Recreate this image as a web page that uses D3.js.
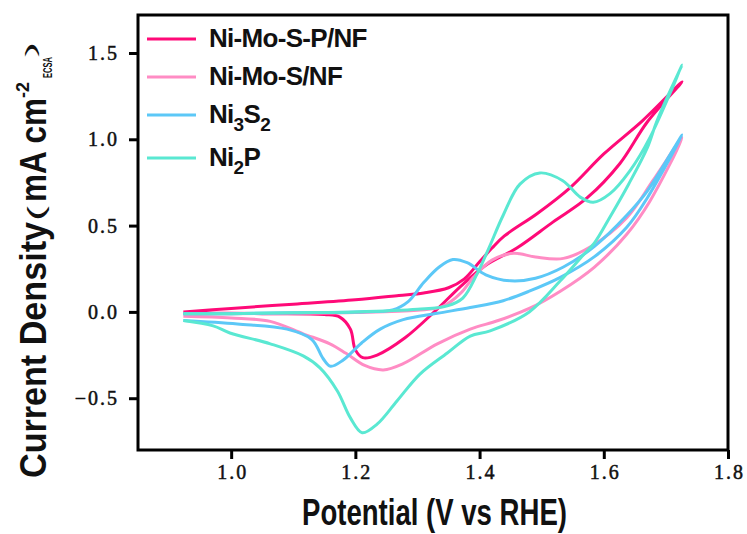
<!DOCTYPE html>
<html>
<head>
<meta charset="utf-8">
<script src="https://cdn.jsdelivr.net/npm/d3@7"></script>
<style>
  body { margin: 0; background: #fff; }
  .tick text { font-family: "Liberation Serif", "DejaVu Serif", serif; font-size: 20px; letter-spacing: 2px; fill: #111; stroke: #111; stroke-width: 0.5px; }
  .title { font-family: "Liberation Sans", Arial, sans-serif; font-weight: bold; fill: #111; }
</style>
</head>
<body>
<svg id="chart"></svg>
<script>
'use strict'

// series names, in legend order
const seriesNames = ['Ni-Mo-S-P/NF', 'Ni-Mo-S/NF', 'Ni3S2', 'Ni2P']

// each CV loop: forward scan to 1.726 V, then back to 0.923 V
const nmspPotential = [0.923, 1.0, 1.1, 1.2, 1.27, 1.31, 1.35, 1.375, 1.40, 1.42, 1.44, 1.493, 1.546, 1.60, 1.663, 1.726,
    1.67, 1.626, 1.573, 1.518, 1.46, 1.41, 1.37, 1.33, 1.28, 1.235, 1.212, 1.200, 1.192, 1.175, 1.15, 1.05, 0.923]
const nmspCurrent = [0.0, 0.02, 0.045, 0.07, 0.095, 0.11, 0.14, 0.19, 0.29, 0.37, 0.44, 0.57, 0.72, 0.915, 1.11, 1.333,
    1.10, 0.86, 0.66, 0.52, 0.37, 0.27, 0.15, 0.01, -0.15, -0.25, -0.265, -0.22, -0.10, -0.03, -0.015, -0.01, -0.005]

const nmsPotential = [0.923, 1.0, 1.1, 1.2, 1.3, 1.34, 1.37, 1.39, 1.42, 1.455, 1.49, 1.535, 1.58, 1.637, 1.679, 1.726,
    1.674, 1.637, 1.585, 1.53, 1.48, 1.43, 1.385, 1.332, 1.277, 1.245, 1.215, 1.185, 1.159, 1.116, 1.063, 1.0, 0.923]
const nmsCurrent = [-0.01, -0.01, -0.008, -0.003, 0.01, 0.03, 0.11, 0.2, 0.3, 0.34, 0.318, 0.31, 0.38, 0.545, 0.76, 1.008,
    0.64, 0.45, 0.26, 0.12, 0.02, -0.05, -0.10, -0.185, -0.30, -0.336, -0.31, -0.24, -0.185, -0.127, -0.055, -0.035, -0.025]

const ni3s2Potential = [0.923, 1.0, 1.1, 1.2, 1.26, 1.285, 1.31, 1.335, 1.357, 1.38, 1.41, 1.45, 1.49, 1.535, 1.585, 1.637, 1.67, 1.726,
    1.67, 1.637, 1.585, 1.53, 1.48, 1.438, 1.385, 1.332, 1.277, 1.24, 1.21, 1.18, 1.16, 1.148, 1.13, 1.09, 1.01, 0.923]
const ni3s2Current = [-0.01, -0.01, -0.005, 0.0, 0.012, 0.06, 0.17, 0.26, 0.303, 0.285, 0.215, 0.18, 0.195, 0.26, 0.38, 0.56, 0.70, 1.025,
    0.66, 0.49, 0.32, 0.2, 0.12, 0.065, 0.025, -0.008, -0.045, -0.1, -0.18, -0.28, -0.315, -0.27, -0.16, -0.1, -0.07, -0.05]

const ni2pPotential = [0.923, 1.0, 1.1, 1.2, 1.3, 1.348, 1.373, 1.396, 1.415, 1.438, 1.465, 1.497, 1.534, 1.562, 1.583, 1.61, 1.642, 1.674, 1.726,
    1.686, 1.67, 1.64, 1.61, 1.585, 1.567, 1.53, 1.48, 1.417, 1.385, 1.348, 1.304, 1.267, 1.235, 1.211, 1.192, 1.171, 1.143, 1.116, 1.063, 0.998, 0.971, 0.923]
const ni2pCurrent = [-0.01, -0.01, -0.005, 0.0, 0.015, 0.035, 0.08, 0.22, 0.37, 0.56, 0.74, 0.805, 0.76, 0.665, 0.635, 0.685, 0.817, 1.008, 1.43,
    1.11, 0.95, 0.74, 0.55, 0.40, 0.33, 0.18, 0.0, -0.11, -0.14, -0.238, -0.36, -0.516, -0.65, -0.70, -0.614, -0.458, -0.324, -0.255, -0.185, -0.122, -0.081, -0.05]

const xTicks = [1.0, 1.2, 1.4, 1.6, 1.8]
const yTicks = [-0.5, 0.0, 0.5, 1.0, 1.5]

const colors = ['#ff0a78', '#ff8cc4', '#5cc8f7', '#5ae8d2']

const width = 747, height = 534
const margin = { top: 15, right: 19, bottom: 84, left: 138 }

let svg = d3.select('#chart').attr('width', width).attr('height', height)

let x = d3.scaleLinear().domain([0.85, 1.8]).range([margin.left, width - margin.right])
let y = d3.scaleLinear().domain([-0.8, 1.72]).range([height - margin.bottom, margin.top])

let loops = [
    d3.zip(nmspPotential, nmspCurrent),
    d3.zip(nmsPotential, nmsCurrent),
    d3.zip(ni3s2Potential, ni3s2Current),
    d3.zip(ni2pPotential, ni2pCurrent)
]

let line = d3.line()
    .x(d => x(d[0]))
    .y(d => y(d[1]))
    .curve(d3.curveCatmullRom.alpha(0.5))

loops.forEach((pts, i) => {
    svg.append('path')
        .datum(pts)
        .attr('fill', 'none')
        .attr('stroke', colors[i])
        .attr('stroke-width', 3)
        .attr('stroke-linejoin', 'round')
        .attr('d', line)
})

// frame
svg.append('rect')
    .attr('x', margin.left)
    .attr('y', margin.top)
    .attr('width', width - margin.left - margin.right)
    .attr('height', height - margin.top - margin.bottom)
    .attr('fill', 'none')
    .attr('stroke', '#000')
    .attr('stroke-width', 3)

let xAxis = svg.append('g')
    .attr('transform', 'translate(0,' + (height - margin.bottom) + ')')
    .call(d3.axisBottom(x).tickValues(xTicks).tickFormat(d3.format('.1f')).tickSizeOuter(0).tickSize(9).tickPadding(6))
xAxis.select('.domain').remove()
xAxis.selectAll('.tick line').attr('stroke', '#000').attr('stroke-width', 3)
xAxis.selectAll('.tick text').attr('dx', '1px')

let yAxis = svg.append('g')
    .attr('transform', 'translate(' + margin.left + ',0)')
    .call(d3.axisLeft(y).tickValues(yTicks).tickFormat(d => d3.format('.1f')(d).replace('-', '\u2212')).tickSizeOuter(0).tickSize(9).tickPadding(10))
yAxis.select('.domain').remove()
yAxis.selectAll('.tick line').attr('stroke', '#000').attr('stroke-width', 3)

// axis titles
svg.append('text')
    .attr('class', 'title')
    .attr('x', 302)
    .attr('y', 525)
    .attr('textLength', 265)
    .attr('lengthAdjust', 'spacingAndGlyphs')
    .style('font-size', '36px')
    .text('Potential (V vs RHE)')

// y title, pieced together along the rotated baseline
let yTitle = svg.append('g').attr('transform', 'rotate(-90)')
let yParts = [
    { text: 'Current Density', from: 478, to: 222, base: 46, size: 37, weight: 'bold' },
    { text: '(', from: 221, to: 206, base: 44, size: 24, weight: 'normal' },
    { text: 'mA cm', from: 202, to: 98, base: 46, size: 37, weight: 'bold' },
    { text: '-2', from: 98, to: 82, base: 29, size: 19, weight: 'bold' },
    { text: 'ECSA', from: 78, to: 57, base: 52, size: 13, weight: 'bold' },
    { text: ')', from: 57, to: 42, base: 36, size: 14, weight: 'normal' }
]
yParts.forEach(p => {
    yTitle.append('text')
        .attr('class', 'title')
        .attr('x', -p.from)
        .attr('y', p.base)
        .attr('textLength', p.from - p.to)
        .attr('lengthAdjust', 'spacingAndGlyphs')
        .style('font-size', p.size + 'px')
        .style('font-weight', p.weight)
        .text(p.text)
})

// legend
let legendY = [39, 77, 115, 158]
let legend = svg.append('g')
seriesNames.forEach((name, i) => {
    legend.append('line')
        .attr('x1', 147).attr('x2', 196)
        .attr('y1', legendY[i]).attr('y2', legendY[i])
        .attr('stroke', colors[i])
        .attr('stroke-width', 3)
    let t = legend.append('text')
        .attr('class', 'title')
        .attr('x', 209)
        .attr('y', legendY[i] + 8)
        .style('font-size', '26px')
        .style('letter-spacing', '-0.7px')
    // chemical formulas get subscripts
    if (name.indexOf('-') >= 0) {
        t.text(name)
    } else {
        let parts = name.match(/[A-Za-z]+|\d+/g)
        let lowered = false
        parts.forEach(p => {
            if (/\d/.test(p)) {
                t.append('tspan').attr('dy', 8).style('font-size', '19px').text(p)
                lowered = true
            } else {
                t.append('tspan').attr('dy', lowered ? -8 : 0).text(p)
                lowered = false
            }
        })
    }
})
</script>
</body>
</html>
